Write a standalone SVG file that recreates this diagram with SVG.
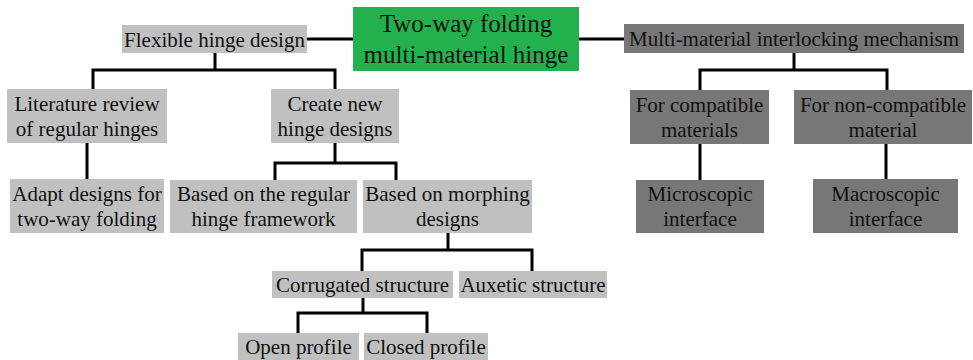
<svg xmlns="http://www.w3.org/2000/svg" width="973" height="360" viewBox="0 0 973 360">
<style>
text{font-family:"Liberation Serif","Times New Roman",serif;font-size:21px;fill:#111;text-anchor:middle}
.lg{fill:#c0c0c0}
.dg{fill:#777777}
.gr{fill:#22b14c}
.root{font-size:25px}
.c{fill:none;stroke:#000;stroke-width:3}
</style>
<rect width="973" height="360" fill="#fff"/>
<g id="connectors">
<path class="c" d="M307 39H353M579 39H624"/>
<path class="c" d="M215 53V70M93 89V70H335V89"/>
<path class="c" d="M87 143V179"/>
<path class="c" d="M335 143V163M275 180V163H396V180"/>
<path class="c" d="M448 233V250M362 271V250H532V271"/>
<path class="c" d="M363 298V313M298 333V313H427V333"/>
<path class="c" d="M794 53V70M700 90V70H887V90"/>
<path class="c" d="M700 144V180M886 144V180"/>
</g>
<g id="root"><rect class="gr" x="353" y="7" width="226" height="64"/><text class="root" x="466" y="31.5">Two-way folding</text><text class="root" x="466" y="62.5">multi-material hinge</text></g>
<g id="flexible"><rect class="lg" x="122" y="25" width="185" height="28"/><text x="214.5" y="46.5">Flexible hinge design</text></g>
<g id="mechanism"><rect class="dg" x="624" y="24" width="340" height="29"/><text x="794" y="46">Multi-material interlocking mechanism</text></g>
<g id="literature"><rect class="lg" x="7" y="89" width="160" height="54"/><text x="87" y="110.5">Literature review</text><text x="87" y="135.5">of regular hinges</text></g>
<g id="create"><rect class="lg" x="271" y="89" width="128" height="54"/><text x="335" y="110.5">Create new</text><text x="335" y="135.5">hinge designs</text></g>
<g id="adapt"><rect class="lg" x="10" y="179" width="154" height="54"/><text x="87" y="200.5">Adapt designs for</text><text x="87" y="225.5">two-way folding</text></g>
<g id="regular"><rect class="lg" x="170" y="180" width="187" height="53"/><text x="263.5" y="201">Based on the regular</text><text x="263.5" y="226">hinge framework</text></g>
<g id="morphing"><rect class="lg" x="363" y="180" width="169" height="53"/><text x="447.5" y="201">Based on morphing</text><text x="447.5" y="226">designs</text></g>
<g id="corrugated"><rect class="lg" x="272" y="271" width="181" height="27"/><text x="362.5" y="292">Corrugated structure</text></g>
<g id="auxetic"><rect class="lg" x="459" y="271" width="148" height="27"/><text x="533" y="292">Auxetic structure</text></g>
<g id="open"><rect class="lg" x="238" y="333" width="121" height="27"/><text x="298.5" y="353.5">Open profile</text></g>
<g id="closed"><rect class="lg" x="364" y="333" width="124" height="27"/><text x="426" y="353.5">Closed profile</text></g>
<g id="compatible"><rect class="dg" x="630" y="90" width="139" height="54"/><text x="699.5" y="111.5">For compatible</text><text x="699.5" y="136.5">materials</text></g>
<g id="noncompatible"><rect class="dg" x="794" y="90" width="178" height="54"/><text x="883" y="111.5">For non-compatible</text><text x="883" y="136.5">material</text></g>
<g id="microscopic"><rect class="dg" x="636" y="180" width="128" height="53"/><text x="700" y="201">Microscopic</text><text x="700" y="226">interface</text></g>
<g id="macroscopic"><rect class="dg" x="813" y="179" width="145" height="54"/><text x="885.5" y="200.5">Macroscopic</text><text x="885.5" y="225.5">interface</text></g>
</svg>
